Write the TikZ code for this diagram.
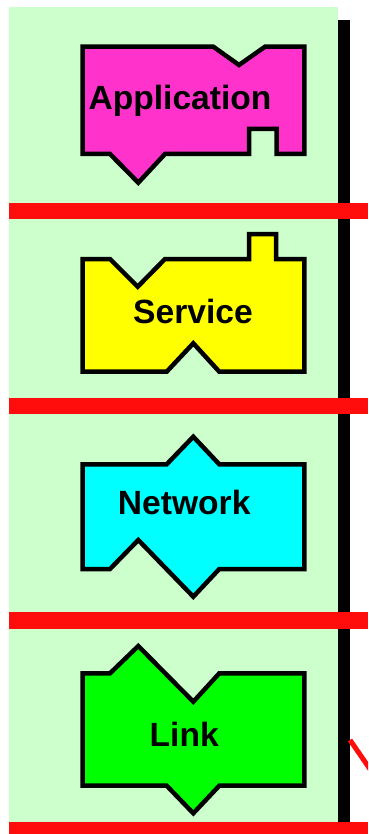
\documentclass[tikz,border=0pt]{standalone}
\usepackage{fontspec}
\setmainfont{Liberation Sans}
\definecolor{bgg}{RGB}{204,255,204}
\definecolor{appc}{RGB}{255,51,204}
\definecolor{srvc}{RGB}{255,255,0}
\definecolor{netc}{RGB}{0,255,255}
\definecolor{lnkc}{RGB}{0,255,0}
\definecolor{redl}{RGB}{255,13,13}
\tikzset{
  layer/.style={draw=black, line width=4.5pt, line join=miter},
  lbl/.style={inner sep=0pt, anchor=base, font=\fontsize{33.6}{40}\selectfont\bfseries},
  sep/.style={fill=redl, draw=none},
}
\begin{document}
\begin{tikzpicture}[x=1pt,y=-1pt]
\useasboundingbox (0,0) rectangle (368,834);
\clip (0,0) rectangle (368,834);
% background
\fill[bgg] (9,7) rectangle (338,834);
\fill[black] (338,20) rectangle (350,834);
\draw[redl, line width=5pt] (350,740) -- (372,772);
% separators
\fill[sep] (9,203) rectangle (368,219);
\fill[sep] (9,398) rectangle (368,414);
\fill[sep] (9,612) rectangle (368,629);
\fill[sep] (9,822) rectangle (368,838);
% Application
\draw[layer, fill=appc] (82.7,46.7) -- (213.3,46.7) -- (239,65) -- (265,46.7) -- (304.3,46.7)
  -- (304.3,154) -- (276.7,154) -- (276.7,129) -- (249,129) -- (249,154) -- (165,154)
  -- (138.3,182.7) -- (110,154) -- (82.7,154) -- cycle;
\node[lbl] (app) at (180,109.3) {Application};
% Service
\draw[layer, fill=srvc] (82.7,259) -- (110,259) -- (137.7,286.7) -- (165,259) -- (249,259)
  -- (249,234) -- (276,234) -- (276,259) -- (304.3,259) -- (304.3,371.7) -- (219.3,371.7)
  -- (193.3,343.3) -- (166.7,371.7) -- (82.7,371.7) -- cycle;
\node[lbl] (srv) at (193,323.3) {Service};
% Network
\draw[layer, fill=netc] (82.7,464.3) -- (166.7,464.3) -- (193.3,436.7) -- (219.3,464.3) -- (304.3,464.3)
  -- (304.3,569) -- (219.3,569) -- (193.3,596.7) -- (138.3,540) -- (110,569) -- (82.7,569) -- cycle;
\node[lbl] (net) at (184.2,514.3) {Network};
% Link
\draw[layer, fill=lnkc] (82.7,673.3) -- (110,673.3) -- (138.3,646) -- (193.3,701.7) -- (219.3,673.3)
  -- (304.3,673.3) -- (304.3,785.7) -- (219.3,785.7) -- (193.3,813.3) -- (166.7,785.7) -- (82.7,785.7) -- cycle;
\node[lbl] (lnk) at (184.2,746.7) {Link};
\end{tikzpicture}
\end{document}
